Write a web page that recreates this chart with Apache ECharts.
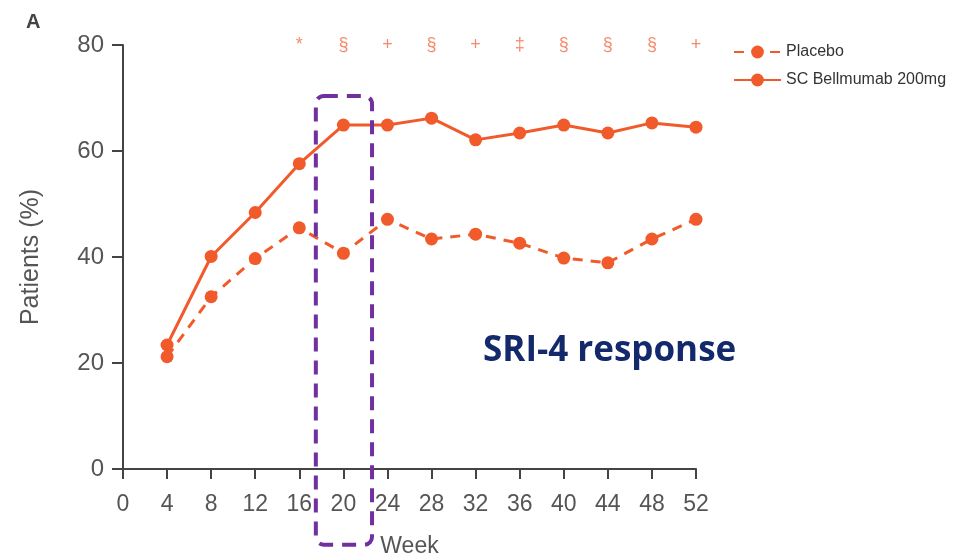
<!DOCTYPE html>
<html><head><meta charset="utf-8">
<script src="https://cdn.jsdelivr.net/npm/echarts@6/dist/echarts.min.js"></script>
<style>html,body{margin:0;padding:0;background:#fff}#c{width:957px;height:558px}</style>
</head><body><div id="c"></div>
<script>
const weeks = [4, 8, 12, 16, 20, 24, 28, 32, 36, 40, 44, 48, 52];
const placebo = [21.2, 32.5, 39.7, 45.5, 40.7, 47.1, 43.4, 44.3, 42.6, 39.8, 38.9, 43.4, 47.1];
const belimumab = [23.4, 40.1, 48.4, 57.6, 64.9, 64.9, 66.2, 62.1, 63.4, 64.9, 63.4, 65.3, 64.5];
const sigWeeks = [16, 20, 24, 28, 32, 36, 40, 44, 48, 52];
const sigMarks = ['*', '§', '+', '§', '+', '‡', '§', '§', '§', '+'];
const xTicks = [0, 4, 8, 12, 16, 20, 24, 28, 32, 36, 40, 44, 48, 52];
const yTicks = [0, 20, 40, 60, 80];

const orange = '#f15a2b';
const axisColor = '#444';
const labelColor = '#555';
const chart = echarts.init(document.getElementById('c'));
chart.setOption({
  animation: false,
  grid: {left: 123, right: 261, top: 45, bottom: 89, outerBoundsMode: 'none', containLabel: false},
  title: [
    {text: 'A', left: 21, top: 7, textStyle: {fontFamily: 'Liberation Sans', fontWeight: 'bold', fontSize: 20, color: '#444'}},
    {text: 'SRI-4 response', left: 478, top: 329, textStyle: {fontFamily: 'Open Sans', fontWeight: 'bold', fontSize: 35, color: '#13296b'}}
  ],
  legend: {
    orient: 'vertical', left: 728, top: 39, itemGap: 12, itemWidth: 47, itemHeight: 16,
    textStyle: {fontFamily: 'Liberation Sans', fontSize: 16, color: '#333'},
    data: ['Placebo', 'SC Bellmumab 200mg']
  },
  xAxis: {
    type: 'value', min: xTicks[0], max: xTicks[xTicks.length - 1], interval: 4,
    name: 'Week', nameLocation: 'middle', nameGap: 66,
    nameTextStyle: {fontFamily: 'Liberation Sans', fontSize: 23, color: labelColor},
    axisLine: {lineStyle: {color: axisColor, width: 2}},
    axisTick: {show: true, length: 10, lineStyle: {color: axisColor, width: 2}},
    axisLabel: {fontFamily: 'Liberation Sans', fontSize: 23, color: labelColor, margin: 24},
    splitLine: {show: false}
  },
  yAxis: {
    type: 'value', min: yTicks[0], max: yTicks[yTicks.length - 1], interval: 20,
    name: 'Patients (%)', nameLocation: 'middle', nameGap: 79, nameRotate: 90,
    nameTextStyle: {fontFamily: 'Liberation Sans', fontSize: 25, color: labelColor},
    axisLine: {show: true, lineStyle: {color: axisColor, width: 2}},
    axisTick: {show: true, length: 11, lineStyle: {color: axisColor, width: 2}},
    axisLabel: {fontFamily: 'Liberation Sans', fontSize: 24, color: labelColor, margin: 19},
    splitLine: {show: false}
  },
  series: [
    {
      name: 'Placebo', type: 'line', data: weeks.map((w, i) => [w, placebo[i]]),
      symbol: 'circle', symbolSize: 13, color: orange,
      lineStyle: {width: 3, type: [10, 8], color: orange},
      itemStyle: {color: orange}
    },
    {
      name: 'SC Bellmumab 200mg', type: 'line', data: weeks.map((w, i) => [w, belimumab[i]]),
      symbol: 'circle', symbolSize: 13, color: orange,
      lineStyle: {width: 3, color: orange},
      itemStyle: {color: orange}
    },
    {
      name: 'sig', type: 'scatter', symbolSize: 0, silent: true,
      data: sigWeeks.map((w, i) => ({value: [w, yTicks[yTicks.length - 1]], mark: sigMarks[i]})),
      label: {show: true, position: 'inside', formatter: p => p.data.mark,
        fontFamily: 'Liberation Sans', fontSize: 18, color: '#f26b45'}
    }
  ]
});
const tl = chart.convertToPixel({gridIndex: 0}, [17.5, 70.4]);
const br = chart.convertToPixel({gridIndex: 0}, [22.6, -14.3]);
chart.setOption({
  graphic: [{
    type: 'rect', z: 100,
    shape: {x: tl[0], y: tl[1], width: br[0] - tl[0], height: br[1] - tl[1], r: 8},
    style: {fill: 'none', stroke: '#7030a0', lineWidth: 4, lineDash: [14, 9]}
  }]
});
</script></body></html>
